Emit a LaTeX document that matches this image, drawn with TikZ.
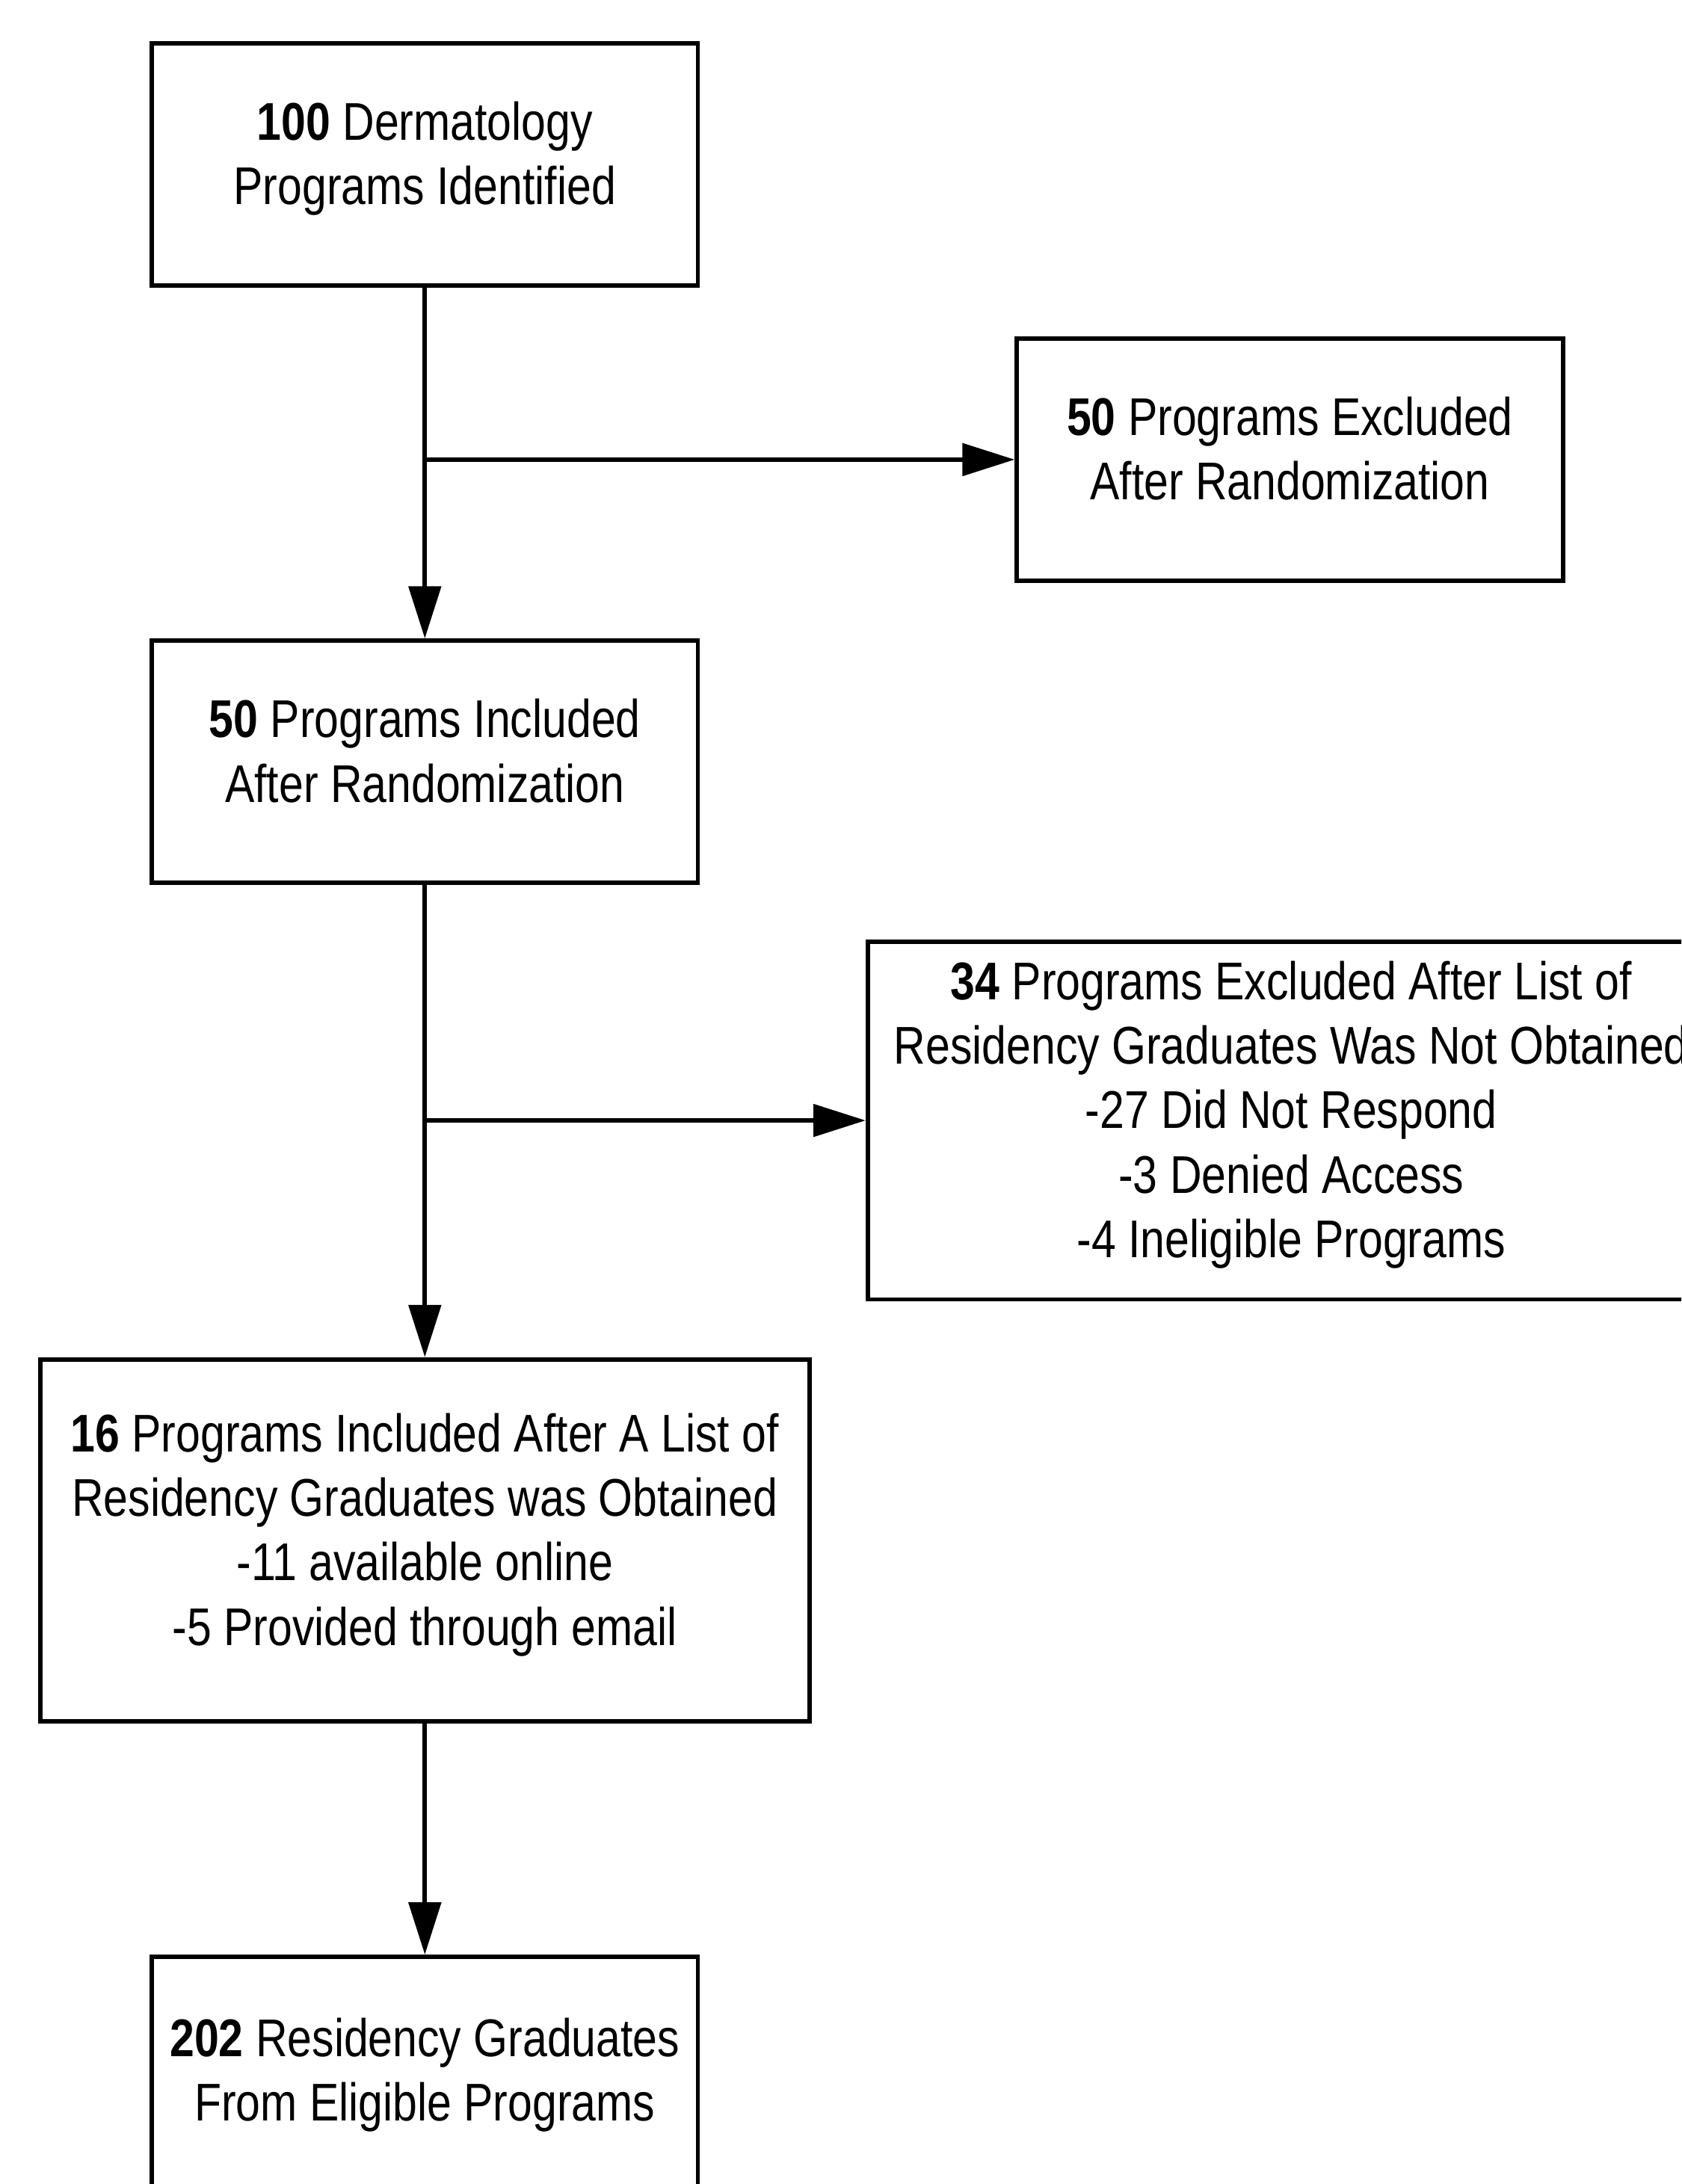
\documentclass[tikz,border=0pt]{standalone}
\usepackage{fontspec}
\setmainfont{Liberation Sans}[FakeStretch=0.83]
\usetikzlibrary{arrows.meta}
\tikzset{>={Triangle[length=0.75cm,width=0.46cm]}}
\tikzset{
  box/.style={draw, line width=1.8pt, align=center, inner sep=0pt,
    text depth=0.32cm, font=\fontsize{21.7}{26.4}\selectfont},
  flow/.style={line width=1.8pt, ->}
}

\begin{document}
\begin{tikzpicture}
\useasboundingbox (0,0) rectangle (24.14,-31.363);
\clip (0,0) rectangle (24.14,-31.363);
% main column
\node[box, minimum width=7.84cm, minimum height=3.48cm] (ident) at (6.10,-2.36) {\textbf{100} Dermatology\\Programs Identified};
\node[box, minimum width=7.84cm, minimum height=3.48cm] (incl1) at (6.10,-10.94) {\textbf{50} Programs Included\\After Randomization};
\node[box, minimum width=11.04cm, minimum height=5.2cm] (incl2) at (6.10,-22.12) {\textbf{16} Programs Included After A List of\\Residency Graduates was Obtained\\-11 available online\\-5 Provided through email};
\node[box, minimum width=7.84cm, minimum height=3.56cm] (grads) at (6.10,-29.88) {\textbf{202} Residency Graduates\\From Eligible Programs};
% exclusions
\node[box, minimum width=7.84cm, minimum height=3.48cm] (excl1) at (18.52,-6.60) {\textbf{50} Programs Excluded\\After Randomization};
\node[box, minimum width=12.16cm, minimum height=5.14cm] (excl2) at (18.54,-16.09) {\textbf{34} Programs Excluded After List of\\Residency Graduates Was Not Obtained\\-27 Did Not Respond\\-3 Denied Access\\-4 Ineligible Programs};

\draw[flow] (ident)--(incl1);
\draw[flow] (ident |- excl1)--(excl1);
\draw[flow] (incl1)--(incl2);
\draw[flow] (incl1 |- excl2)--(excl2);
\draw[flow] (incl2)--(grads);
\end{tikzpicture}
\end{document}
